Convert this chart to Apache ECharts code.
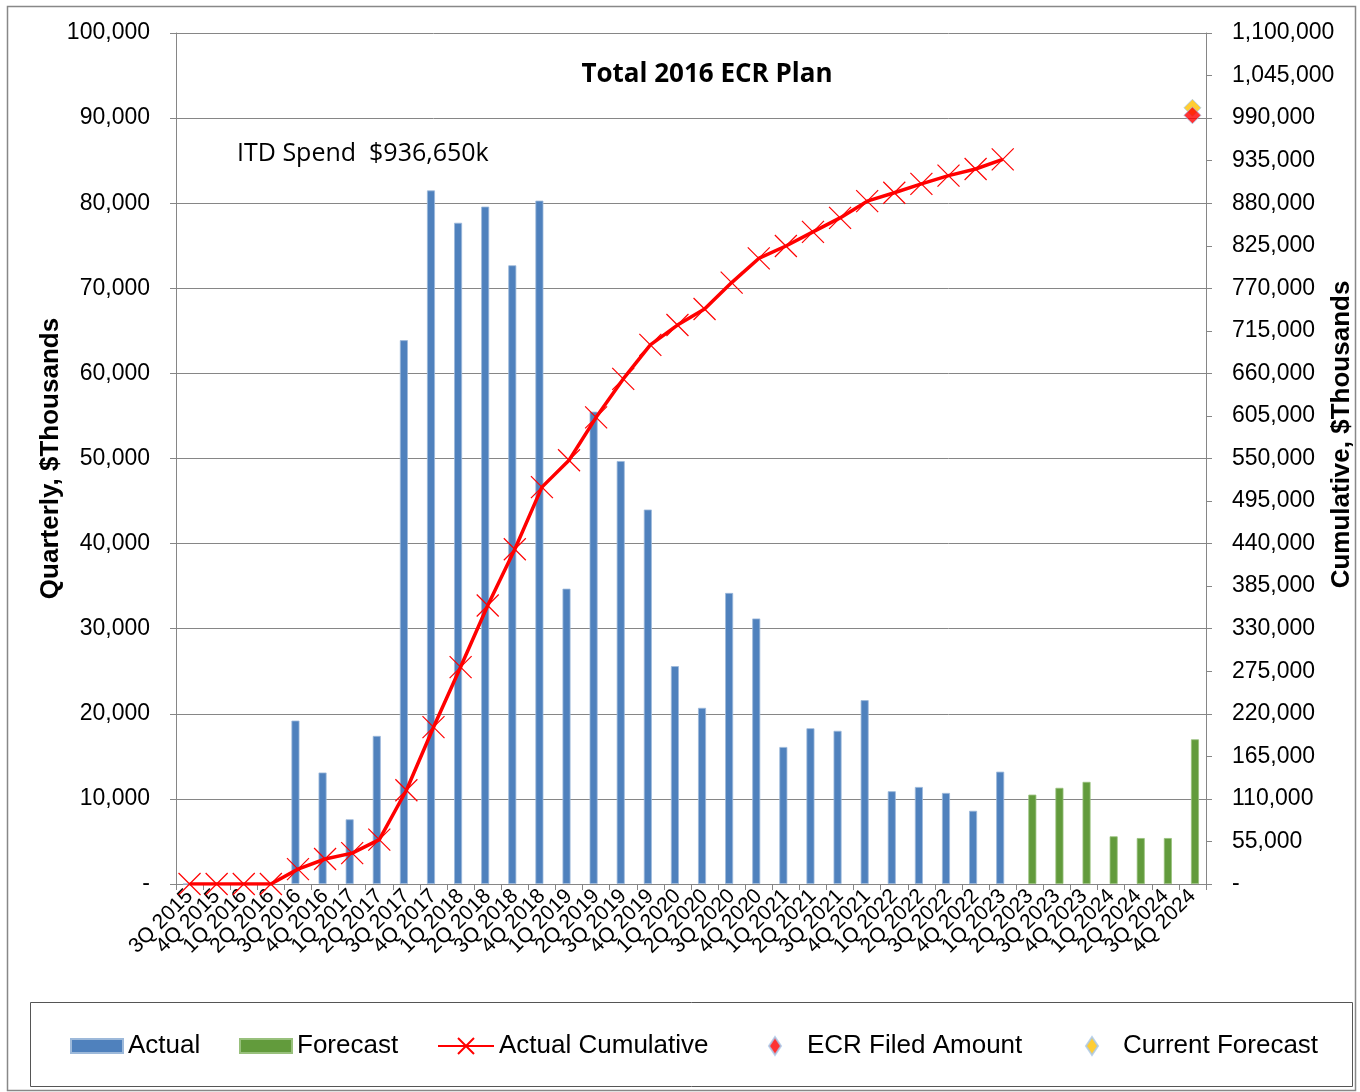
<!DOCTYPE html>
<html lang="en">
<head>
    <meta charset="UTF-8">
    <title>Total 2016 ECR Plan</title>
    <script src="https://cdn.jsdelivr.net/npm/echarts@6/dist/echarts.min.js"></script>
    <style>
        body { margin: 0; background: #fff; }
    </style>
</head>
<body>
    <div id="main" style="width: 1360px; height: 1092px;"></div>

    <script>
        // quarters
        var quarters = [
            '3Q 2015', '4Q 2015',
            '1Q 2016', '2Q 2016', '3Q 2016', '4Q 2016',
            '1Q 2017', '2Q 2017', '3Q 2017', '4Q 2017',
            '1Q 2018', '2Q 2018', '3Q 2018', '4Q 2018',
            '1Q 2019', '2Q 2019', '3Q 2019', '4Q 2019',
            '1Q 2020', '2Q 2020', '3Q 2020', '4Q 2020',
            '1Q 2021', '2Q 2021', '3Q 2021', '4Q 2021',
            '1Q 2022', '2Q 2022', '3Q 2022', '4Q 2022',
            '1Q 2023', '2Q 2023', '3Q 2023', '4Q 2023',
            '1Q 2024', '2Q 2024', '3Q 2024', '4Q 2024'
        ];

        // quarterly spend, $k
        var actual = [
            0, 0, 0, 0, 19200, 13100, 7600, 17400, 63900, 81500,
            77700, 79600, 72700, 80300, 34700, 55500, 49700, 44000,
            25600, 20700, 34200, 31200, 16100, 18300, 18000, 21600,
            10900, 11400, 10700, 8600, 13200,
            null, null, null, null, null, null, null
        ];
        var forecast = [
            null, null, null, null, null, null, null, null, null, null,
            null, null, null, null, null, null, null, null, null, null,
            null, null, null, null, null, null, null, null, null, null,
            null,
            10500, 11300, 12000, 5600, 5400, 5400, 17000
        ];
        // cumulative, $k
        var actualCumulative = [
            0, 0, 0, 0, 19200, 32300, 39900, 57300, 121200, 202700,
            280400, 360000, 432700, 513000, 547700, 603200, 652900, 696900,
            722500, 743200, 777400, 808600, 824700, 843000, 861000, 882600,
            893500, 904900, 915600, 924200, 936650,
            null, null, null, null, null, null, null
        ];
        var ecrFiled = [['4Q 2024', 993600]];
        var currentForecast = [['4Q 2024', 1003300]];

        var itdText = 'ITD Spend  $936,650k';

        var mycharts = echarts.init(document.getElementById('main'));

        var arial = '"Liberation Sans", Arial, sans-serif';
        var gray = '#868686';
        var crossPath = 'path://M0,0L10,10M10,0L0,10';
        var diamondPath = 'path://M6,0L12,9L6,18L0,9Z';

        function fmt(v) {
            return v === 0 ? '-' : v.toLocaleString('en-US');
        }

        function legendItem(name, left, w, h, extraPad, icon) {
            var item = { name: name };
            if (icon) item.icon = icon;
            return {
                data: [item],
                left: left,
                top: 1033,
                padding: 0,
                itemWidth: w,
                itemHeight: h,
                selectedMode: false,
                textStyle: {
                    fontFamily: arial,
                    fontSize: 26,
                    color: '#000',
                    padding: [0, 0, 0, extraPad]
                }
            };
        }

        var option = {
            animation: false,
            textStyle: { fontFamily: arial },
            title: {
                text: 'Total 2016 ECR Plan',
                left: 702,
                top: 57,
                textAlign: 'center',
                textStyle: {
                    fontFamily: '"Open Sans", sans-serif',
                    fontSize: 26,
                    fontWeight: 'bold',
                    color: '#000'
                }
            },
            graphic: [
                {
                    type: 'rect',
                    shape: { x: 7.5, y: 6.5, width: 1348, height: 1084 },
                    style: { fill: 'none', stroke: '#888', lineWidth: 1.5 },
                    silent: true
                },
                {
                    type: 'rect',
                    shape: { x: 30.5, y: 1002.5, width: 1322, height: 84 },
                    style: { fill: 'none', stroke: '#555', lineWidth: 1 },
                    silent: true
                },
                {
                    type: 'text',
                    left: 237,
                    top: 141,
                    style: {
                        text: itdText,
                        fontFamily: '"Open Sans", sans-serif',
                        fontSize: 25,
                        fill: '#000'
                    }
                }
            ],
            legend: [
                legendItem('Actual', 70, 52, 14, 0, 'rect'),
                legendItem('Forecast', 239, 52, 14, 0, 'rect'),
                legendItem('Actual Cumulative', 437, 56, 20, 0),
                legendItem('ECR Filed Amount', 768, 12, 18, 21, diamondPath),
                legendItem('Current Forecast', 1085, 12, 18, 20, diamondPath)
            ],
            grid: {
                left: 176, right: 154, top: 33, bottom: 208,
                outerBoundsMode: 'none',
                containLabel: false
            },
            xAxis: {
                type: 'category',
                data: quarters,
                boundaryGap: true,
                axisLine: { lineStyle: { color: gray, width: 1 } },
                axisTick: { show: true, length: 6, lineStyle: { color: gray } },
                axisLabel: {
                    interval: 0,
                    rotate: 45,
                    margin: 9,
                    fontSize: 21,
                    fontFamily: arial,
                    color: '#000'
                }
            },
            yAxis: [
                {
                    type: 'value',
                    min: 0,
                    max: 100000,
                    interval: 10000,
                    name: 'Quarterly, $Thousands',
                    nameLocation: 'middle',
                    nameRotate: 90,
                    nameGap: 112,
                    nameMoveOverlap: false,
                    nameTextStyle: {
                        fontFamily: arial,
                        fontSize: 26,
                        fontWeight: 'bold',
                        color: '#000'
                    },
                    axisLine: { show: true, lineStyle: { color: gray } },
                    axisTick: { show: true, length: 6, lineStyle: { color: gray } },
                    axisLabel: {
                        margin: 26,
                        fontSize: 23,
                        fontFamily: arial,
                        color: '#000',
                        formatter: fmt
                    },
                    splitLine: { show: true, lineStyle: { color: gray, width: 1 } }
                },
                {
                    type: 'value',
                    min: 0,
                    max: 1100000,
                    interval: 55000,
                    name: 'Cumulative, $Thousands',
                    nameLocation: 'middle',
                    nameRotate: 90,
                    nameGap: 123,
                    nameMoveOverlap: false,
                    nameTextStyle: {
                        fontFamily: arial,
                        fontSize: 26,
                        fontWeight: 'bold',
                        color: '#000',
                        padding: [0, 0, 0, 48]
                    },
                    axisLine: { show: true, lineStyle: { color: gray } },
                    axisTick: { show: true, length: 6, lineStyle: { color: gray } },
                    axisLabel: {
                        margin: 26,
                        fontSize: 23,
                        fontFamily: arial,
                        color: '#000',
                        formatter: fmt
                    },
                    splitLine: { show: false }
                }
            ],
            series: [
                {
                    name: 'Actual',
                    type: 'bar',
                    yAxisIndex: 0,
                    data: actual,
                    barWidth: 8,
                    barGap: '-37%',
                    itemStyle: { color: '#4F81BD', borderColor: '#9DB9DA', borderWidth: 0.8 }
                },
                {
                    name: 'Forecast',
                    type: 'bar',
                    yAxisIndex: 0,
                    data: forecast,
                    barWidth: 8,
                    itemStyle: { color: '#629B3C', borderColor: '#98C07C', borderWidth: 0.8 }
                },
                {
                    name: 'Actual Cumulative',
                    type: 'line',
                    yAxisIndex: 1,
                    data: actualCumulative,
                    z: 5,
                    symbol: crossPath,
                    symbolSize: 22,
                    showAllSymbol: true,
                    color: '#FF0000',
                    lineStyle: { color: '#FF0000', width: 3.5 },
                    itemStyle: { color: 'rgba(0,0,0,0)', borderColor: '#FF0000', borderWidth: 1.2 }
                },
                {
                    name: 'ECR Filed Amount',
                    type: 'scatter',
                    yAxisIndex: 1,
                    data: ecrFiled,
                    z: 7,
                    symbol: 'diamond',
                    symbolSize: 17,
                    itemStyle: { color: '#FF0000', borderColor: '#A9C8EA', borderWidth: 1 }
                },
                {
                    name: 'Current Forecast',
                    type: 'scatter',
                    yAxisIndex: 1,
                    data: currentForecast,
                    z: 6,
                    symbol: 'diamond',
                    symbolSize: 17,
                    itemStyle: { color: '#FFC000', borderColor: '#A9C8EA', borderWidth: 1 }
                }
            ]
        };

        mycharts.setOption(option);
    </script>
</body>
</html>
